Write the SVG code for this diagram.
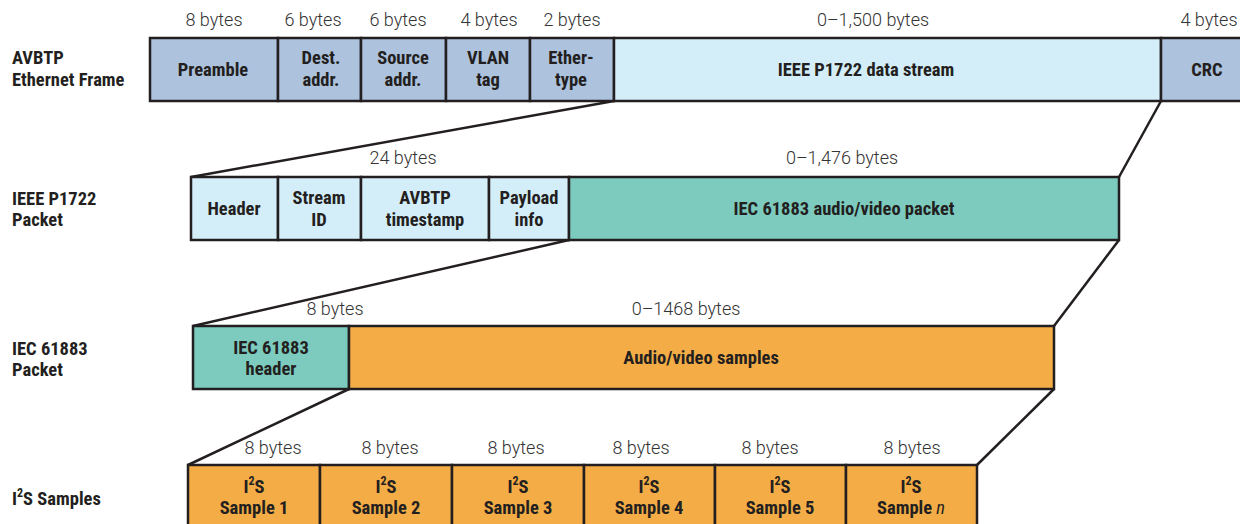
<svg xmlns="http://www.w3.org/2000/svg" width="1240" height="524" viewBox="0 0 1240 524">
<style>
.box{stroke:#231f20;stroke-width:2.5}
.gb{fill:#adc2dd}
.lb{fill:#d4eef9}
.tl{fill:#7ccbbe}
.or{fill:#f4ad46}
.t{font-family:"Liberation Sans Narrow","Roboto Condensed","Liberation Sans",sans-serif;font-weight:bold;font-size:18.5px;fill:#231f20;text-anchor:middle}
.lbl{font-family:"Liberation Sans Narrow","Roboto Condensed","Liberation Sans",sans-serif;font-weight:bold;font-size:18.5px;fill:#231f20}
.by{font-family:Roboto,"Liberation Sans",sans-serif;font-weight:300;font-size:18px;fill:#333;text-anchor:middle}
.ln{stroke:#231f20;stroke-width:2.5;fill:none}
</style>
<rect width="1240" height="524" fill="#fff"/>
<g id="connectors">
<line class="ln" x1="191" y1="177" x2="614" y2="101"/>
<line class="ln" x1="1119" y1="177" x2="1161" y2="101"/>
<line class="ln" x1="193" y1="326" x2="569" y2="240"/>
<line class="ln" x1="1054" y1="326" x2="1119" y2="240"/>
<line class="ln" x1="188" y1="465" x2="349" y2="389"/>
<line class="ln" x1="977" y1="465" x2="1054" y2="389"/>
</g>
<g id="row-labels">
<text class="lbl"><tspan x="12" y="64">AVBTP</tspan><tspan x="12" dy="21.5">Ethernet Frame</tspan></text>
<text class="lbl"><tspan x="12" y="204.5">IEEE P1722</tspan><tspan x="12" dy="21.5">Packet</tspan></text>
<text class="lbl"><tspan x="12" y="354.5">IEC 61883</tspan><tspan x="12" dy="21.5">Packet</tspan></text>
<text class="lbl" x="12" y="505">I<tspan font-size="12" dy="-8">2</tspan><tspan dy="8">S Samples</tspan></text>
</g>
<g id="ethernet-frame">
<rect class="box gb" x="150" y="38" width="128" height="63"/>
<rect class="box gb" x="278" y="38" width="83" height="63"/>
<rect class="box gb" x="361" y="38" width="85" height="63"/>
<rect class="box gb" x="446" y="38" width="84" height="63"/>
<rect class="box gb" x="530" y="38" width="84" height="63"/>
<rect class="box lb" x="614" y="38" width="547" height="63"/>
<rect class="box gb" x="1161" y="38" width="90" height="63"/>
<text class="t" x="213" y="76">Preamble</text>
<text class="t"><tspan x="321" y="64">Dest.</tspan><tspan x="321" dy="21.5">addr.</tspan></text>
<text class="t"><tspan x="403" y="64">Source</tspan><tspan x="403" dy="21.5">addr.</tspan></text>
<text class="t"><tspan x="488" y="64">VLAN</tspan><tspan x="488" dy="21.5">tag</tspan></text>
<text class="t"><tspan x="571" y="64">Ether-</tspan><tspan x="571" dy="21.5">type</tspan></text>
<text class="t" x="866" y="76">IEEE P1722 data stream</text>
<text class="t" x="1207" y="76">CRC</text>
<text class="by" x="214" y="26">8 bytes</text>
<text class="by" x="313" y="26">6 bytes</text>
<text class="by" x="398" y="26">6 bytes</text>
<text class="by" x="489" y="26">4 bytes</text>
<text class="by" x="572" y="26">2 bytes</text>
<text class="by" x="873" y="26">0–1,500 bytes</text>
<text class="by" x="1209" y="26">4 bytes</text>
</g>
<g id="p1722-packet">
<rect class="box lb" x="191" y="177" width="87" height="63"/>
<rect class="box lb" x="278" y="177" width="83" height="63"/>
<rect class="box lb" x="361" y="177" width="128" height="63"/>
<rect class="box lb" x="489" y="177" width="80" height="63"/>
<rect class="box tl" x="569" y="177" width="550" height="63"/>
<text class="t" x="234" y="215">Header</text>
<text class="t"><tspan x="319" y="204">Stream</tspan><tspan x="319" dy="21.5">ID</tspan></text>
<text class="t"><tspan x="425" y="204">AVBTP</tspan><tspan x="425" dy="21.5">timestamp</tspan></text>
<text class="t"><tspan x="529" y="204">Payload</tspan><tspan x="529" dy="21.5">info</tspan></text>
<text class="t" x="844" y="215">IEC 61883 audio/video packet</text>
<text class="by" x="403" y="164">24 bytes</text>
<text class="by" x="842" y="164">0–1,476 bytes</text>
</g>
<g id="iec61883-packet">
<rect class="box tl" x="193" y="326" width="156" height="63"/>
<rect class="box or" x="349" y="326" width="705" height="63"/>
<text class="t"><tspan x="271" y="353.5">IEC 61883</tspan><tspan x="271" dy="21.5">header</tspan></text>
<text class="t" x="701" y="364">Audio/video samples</text>
<text class="by" x="335" y="315">8 bytes</text>
<text class="by" x="686" y="315">0–1468 bytes</text>
</g>
<g id="i2s-samples">
<rect class="box or" x="188" y="465" width="132" height="70"/>
<rect class="box or" x="320" y="465" width="132" height="70"/>
<rect class="box or" x="452" y="465" width="132" height="70"/>
<rect class="box or" x="584" y="465" width="131" height="70"/>
<rect class="box or" x="715" y="465" width="131" height="70"/>
<rect class="box or" x="846" y="465" width="131" height="70"/>
<text class="t"><tspan x="254" y="492.5">I</tspan><tspan font-size="12" dy="-8">2</tspan><tspan dy="8">S</tspan><tspan x="254" dy="21.5">Sample 1</tspan></text>
<text class="t"><tspan x="386" y="492.5">I</tspan><tspan font-size="12" dy="-8">2</tspan><tspan dy="8">S</tspan><tspan x="386" dy="21.5">Sample 2</tspan></text>
<text class="t"><tspan x="518" y="492.5">I</tspan><tspan font-size="12" dy="-8">2</tspan><tspan dy="8">S</tspan><tspan x="518" dy="21.5">Sample 3</tspan></text>
<text class="t"><tspan x="649" y="492.5">I</tspan><tspan font-size="12" dy="-8">2</tspan><tspan dy="8">S</tspan><tspan x="649" dy="21.5">Sample 4</tspan></text>
<text class="t"><tspan x="780" y="492.5">I</tspan><tspan font-size="12" dy="-8">2</tspan><tspan dy="8">S</tspan><tspan x="780" dy="21.5">Sample 5</tspan></text>
<text class="t"><tspan x="911" y="492.5">I</tspan><tspan font-size="12" dy="-8">2</tspan><tspan dy="8">S</tspan><tspan x="911" dy="21.5">Sample <tspan font-style="italic" font-weight="normal">n</tspan></tspan></text>
<text class="by" x="273" y="454">8 bytes</text>
<text class="by" x="390" y="454">8 bytes</text>
<text class="by" x="516" y="454">8 bytes</text>
<text class="by" x="641" y="454">8 bytes</text>
<text class="by" x="770" y="454">8 bytes</text>
<text class="by" x="912" y="454">8 bytes</text>
</g>
</svg>
